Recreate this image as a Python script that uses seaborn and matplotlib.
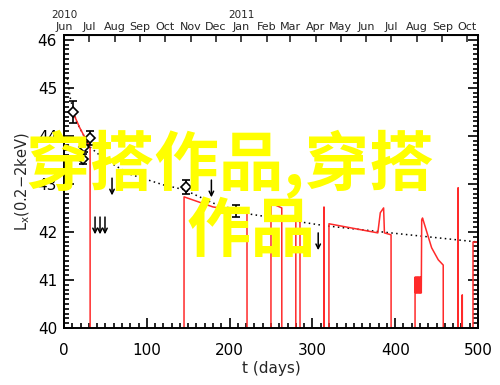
import matplotlib
matplotlib.use("Agg")
import matplotlib.pyplot as plt
import numpy as np
import pandas as pd
import seaborn as sns
from matplotlib.ticker import MultipleLocator

sns.set_style("ticks")
plt.rcParams['font.family'] = ['DejaVu Sans']

# dotted model decay curve
model_t = [4, 8, 15, 31, 50, 80, 120, 145, 180, 225, 270, 315, 400, 500]
model_lx = [45.2, 44.75, 44.3, 43.77, 43.5, 43.2, 42.98, 42.88, 42.6, 42.37,
            42.25, 42.13, 41.97, 41.79]

# red light curve; 38 = dropped below the plot floor (gaps)
red_t = [12, 19, 30, 31.5, 31.6, 144.9, 145, 180, 221, 221.1,
         249.9, 250, 263, 263.1, 279.9, 280, 285, 285.1,
         313.9, 314, 314.5, 319.9, 320, 379, 382, 386, 387, 395, 395.1,
         423.9, 424, 424.5, 425, 425.5, 426, 426.5, 427, 427.5, 428, 428.5,
         429, 429.5, 430, 430.5, 431, 431.5, 432, 433, 444, 452, 458, 458.1,
         475.9, 476, 476.1, 480.9, 481, 481.1, 493.9, 494, 500]
red_lx = [44.44, 44.17, 43.81, 43.75, 38, 38, 42.73, 42.52, 42.42, 38,
          38, 42.6, 42.5, 38, 38, 42.6, 42.58, 38,
          38, 42.52, 38, 38, 42.17, 41.98, 42.4, 42.5, 41.98, 41.94, 38,
          38, 41.06, 40.73, 41.06, 40.73, 41.06, 40.73, 41.06, 40.73, 41.06, 40.73,
          41.06, 40.73, 41.06, 40.73, 41.06, 40.73, 42.25, 42.29, 41.67, 41.42, 41.31, 38,
          38, 42.92, 38, 38, 40.69, 38, 38, 41.79, 41.79]

# detections with error bars
det_t = [11, 31, 24, 23, 147]
det_lx = [44.5, 43.96, 43.77, 43.52, 42.94]
det_err = [0.23, 0.15, 0.1, 0.1, 0.15]
bar_t = [208]
bar_lx = [42.44]
bar_err = [0.12]

# upper limits (arrows)
ul_t = [37.5, 43.5, 49.5, 58, 178, 307]
ul_lx = [42.31, 42.31, 42.31, 43.12, 43.08, 41.98]

months = ['Jun', 'Jul', 'Aug', 'Sep', 'Oct', 'Nov', 'Dec', 'Jan', 'Feb', 'Mar',
          'Apr', 'May', 'Jun', 'Jul', 'Aug', 'Sep', 'Oct']
month_day = [0, 30, 61, 92, 122, 153, 183, 214, 245, 273, 304, 334, 365, 395,
             426, 457, 487]
years = ['2010', '2011']
year_day = [0, 214]

fig = plt.figure(figsize=(5, 3.85), dpi=100)
ax = fig.add_axes([64 / 500, 57 / 385, 414 / 500, 293 / 385])

model = pd.DataFrame({'t': model_t, 'lx': model_lx})
red = pd.DataFrame({'t': red_t, 'lx': red_lx})
sns.lineplot(data=model, x='t', y='lx', ax=ax, color='black', lw=1.1,
             linestyle=(0, (1, 2.2)), estimator=None, sort=False)
sns.lineplot(data=red, x='t', y='lx', ax=ax, color='#ff2a2a', lw=1.1,
             estimator=None, sort=False)

ax.errorbar(det_t, det_lx, yerr=det_err, fmt='D', mfc='white', mec='black',
            ms=5.5, mew=1.2, ecolor='black', elinewidth=1.2, capsize=3,
            capthick=1.2, zorder=5)
ax.errorbar(bar_t, bar_lx, yerr=bar_err, fmt='_', color='black', ms=6,
            elinewidth=1.2, capsize=3, capthick=1.2, zorder=5)

for t, lx in zip(ul_t, ul_lx):
    ax.annotate('', xy=(t, lx - 0.36), xytext=(t, lx),
                arrowprops=dict(arrowstyle='->', color='black', lw=1.1,
                                shrinkA=0, shrinkB=0, mutation_scale=8))

ax.set_xlim(0, 500)
ax.set_ylim(40, 46.1)
ax.xaxis.set_major_locator(MultipleLocator(100))
ax.xaxis.set_minor_locator(MultipleLocator(10))
ax.yaxis.set_major_locator(MultipleLocator(1))
ax.yaxis.set_minor_locator(MultipleLocator(0.1))
ax.tick_params(which='both', direction='in', right=True, labelsize=11,
               width=1.2, colors='black')
ax.tick_params(which='major', length=7)
ax.tick_params(which='minor', length=3.5)
ax.tick_params(axis='x', pad=11)
ax.tick_params(axis='y', pad=5)
for s in ax.spines.values():
    s.set_linewidth(1.4)
    s.set_color('black')

ax.set_xlabel('t (days)', fontsize=11, labelpad=2)
ax.set_ylabel('L$_\\mathrm{x}$(0.2\u22122keV)', fontsize=10.5, labelpad=4)

top = ax.secondary_xaxis('top')
top.set_xticks(month_day, labels=months)
top.tick_params(direction='in', length=5, width=1.2, labelsize=8, pad=2)
top.xaxis.set_minor_locator(plt.NullLocator())
for t, yr in zip(year_day, years):
    ax.annotate(yr, xy=(t, 1), xycoords=('data', 'axes fraction'),
                xytext=(0, 11), textcoords='offset points', ha='center',
                va='bottom', fontsize=7.5)

# overlay watermark
fig.text(25 / 500, 1 - 164 / 385, '穿搭作品,穿搭', family=['Noto Sans CJK SC'],
         fontsize=46.5, fontweight='bold', color='#ffff00', ha='left', va='center')
fig.text(187 / 500, 1 - 232 / 385, '作品', family=['Noto Sans CJK SC'],
         fontsize=46.5, fontweight='bold', color='#ffff00', ha='left', va='center')

fig.savefig('out.png', dpi=100)
